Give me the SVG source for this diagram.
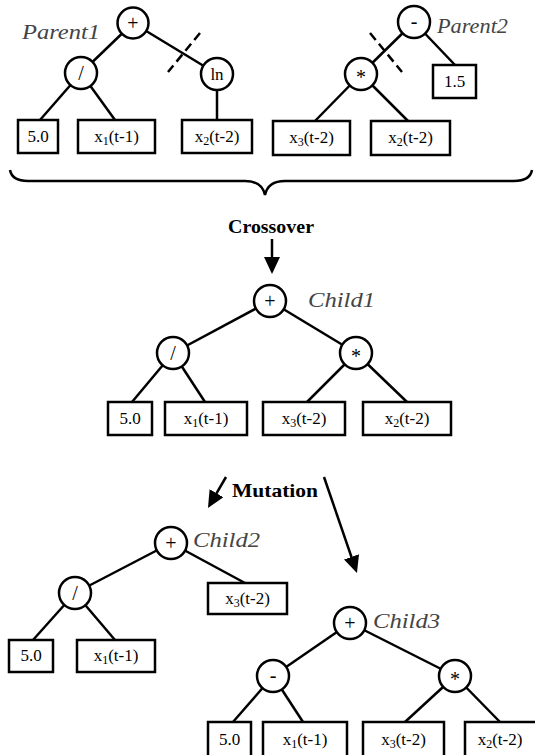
<svg xmlns="http://www.w3.org/2000/svg" width="535" height="755" viewBox="0 0 535 755">
<style>
.c{fill:#fff;stroke:#000;stroke-width:2.5}
.b{fill:#fff;stroke:#000;stroke-width:2.5}
.l{stroke:#000;stroke-width:2.5;fill:none}
.d{stroke:#000;stroke-width:2.5;fill:none;stroke-dasharray:9,5}
.t{font-family:"Liberation Serif",serif;font-size:17px;fill:#000;text-anchor:middle}
.o{font-family:"Liberation Serif",serif;font-size:20px;fill:#000;text-anchor:middle}
.s{font-size:12px}
.i{font-family:"Liberation Serif",serif;font-style:italic;font-size:20px;fill:#444}
.h{font-family:"Liberation Serif",serif;font-weight:bold;font-size:19px;fill:#000}
</style>
<defs>
<marker id="ah" markerUnits="userSpaceOnUse" markerWidth="17" markerHeight="16" refX="7" refY="8" orient="auto">
<path d="M0,0 L17,8 L0,16 z" fill="#000"/>
</marker>
</defs>
<g id="connectors">
<line class="l" x1="133" y1="23" x2="81" y2="73"/>
<line class="l" x1="133" y1="23" x2="217" y2="74"/>
<line class="l" x1="81" y1="73" x2="40" y2="120"/>
<line class="l" x1="81" y1="73" x2="115" y2="120"/>
<line class="l" x1="217" y1="74" x2="217" y2="120"/>
<line class="d" x1="200" y1="33" x2="168" y2="72"/>
<line class="l" x1="414" y1="22" x2="361" y2="74"/>
<line class="l" x1="414" y1="22" x2="455" y2="65"/>
<line class="l" x1="361" y1="74" x2="315" y2="121"/>
<line class="l" x1="361" y1="74" x2="408" y2="121"/>
<line class="d" x1="370" y1="33" x2="402" y2="72"/>
<path class="l" d="M10,170 Q12,181 28,181 L245,181 Q262,181 265,195 Q268,181 285,181 L514,181 Q530,181 532,170"/>
<line class="l" x1="272" y1="239" x2="272" y2="264" marker-end="url(#ah)"/>
<line class="l" x1="270" y1="301" x2="173" y2="353"/>
<line class="l" x1="270" y1="301" x2="356" y2="353"/>
<line class="l" x1="173" y1="353" x2="132" y2="402"/>
<line class="l" x1="173" y1="353" x2="205" y2="402"/>
<line class="l" x1="356" y1="353" x2="307" y2="402"/>
<line class="l" x1="356" y1="353" x2="407" y2="402"/>
<line class="l" x1="226" y1="477" x2="213" y2="499.3" marker-end="url(#ah)"/>
<line class="l" x1="324" y1="477" x2="353.7" y2="563.5" marker-end="url(#ah)"/>
<line class="l" x1="171" y1="543" x2="75" y2="593"/>
<line class="l" x1="171" y1="543" x2="245" y2="583"/>
<line class="l" x1="75" y1="593" x2="33" y2="640"/>
<line class="l" x1="75" y1="593" x2="115" y2="640"/>
<line class="l" x1="350" y1="623" x2="273" y2="676"/>
<line class="l" x1="350" y1="623" x2="455" y2="676"/>
<line class="l" x1="273" y1="676" x2="233" y2="722"/>
<line class="l" x1="273" y1="676" x2="303" y2="722"/>
<line class="l" x1="455" y1="676" x2="405" y2="722"/>
<line class="l" x1="455" y1="676" x2="500" y2="722"/>
</g>
<g id="labels">
<text class="i" x="22" y="39" textLength="78" lengthAdjust="spacingAndGlyphs">Parent1</text>
<text class="i" x="437" y="33" textLength="71" lengthAdjust="spacingAndGlyphs">Parent2</text>
<text class="h" x="228" y="233" textLength="86" lengthAdjust="spacingAndGlyphs">Crossover</text>
<text class="i" x="308" y="307" textLength="67" lengthAdjust="spacingAndGlyphs">Child1</text>
<text class="h" x="232" y="497" textLength="86" lengthAdjust="spacingAndGlyphs">Mutation</text>
<text class="i" x="193" y="547" textLength="67" lengthAdjust="spacingAndGlyphs">Child2</text>
<text class="i" x="373" y="628" textLength="67" lengthAdjust="spacingAndGlyphs">Child3</text>
</g>
<g id="p1-plus"><circle class="c" cx="133" cy="23" r="15.5"/><text class="o" x="133" y="30">+</text></g>
<g id="p1-div"><circle class="c" cx="81" cy="73" r="16"/><text class="o" x="81" y="80">/</text></g>
<g id="p1-ln"><circle class="c" cx="217" cy="74" r="16"/><text class="t" x="217" y="80">ln</text></g>
<g id="p1-50"><rect class="b" x="18" y="120" width="40" height="33"/><text class="t" x="38" y="142">5.0</text></g>
<g id="p1-x1"><rect class="b" x="78" y="120" width="77" height="33"/><text class="t" x="116.5" y="142">x<tspan class="s" dy="3">1</tspan><tspan dy="-3">(t-1)</tspan></text></g>
<g id="p1-x2"><rect class="b" x="182" y="120" width="70" height="33"/><text class="t" x="217" y="142">x<tspan class="s" dy="3">2</tspan><tspan dy="-3">(t-2)</tspan></text></g>
<g id="p2-minus"><circle class="c" cx="414" cy="22" r="16"/><text class="o" x="414" y="28">-</text></g>
<g id="p2-mul"><circle class="c" cx="361" cy="74" r="16"/><text class="o" x="361" y="84">*</text></g>
<g id="p2-15"><rect class="b" x="433" y="65" width="43" height="33"/><text class="t" x="454.5" y="87">1.5</text></g>
<g id="p2-x3"><rect class="b" x="273" y="121" width="77" height="34"/><text class="t" x="311.5" y="143">x<tspan class="s" dy="3">3</tspan><tspan dy="-3">(t-2)</tspan></text></g>
<g id="p2-x2"><rect class="b" x="371" y="121" width="79" height="34"/><text class="t" x="410.5" y="143">x<tspan class="s" dy="3">2</tspan><tspan dy="-3">(t-2)</tspan></text></g>
<g id="c1-plus"><circle class="c" cx="270" cy="301" r="16"/><text class="o" x="270" y="308">+</text></g>
<g id="c1-div"><circle class="c" cx="173" cy="353" r="16"/><text class="o" x="173" y="360">/</text></g>
<g id="c1-mul"><circle class="c" cx="356" cy="353" r="16"/><text class="o" x="356" y="363">*</text></g>
<g id="c1-50"><rect class="b" x="108" y="402" width="44" height="33"/><text class="t" x="130" y="424">5.0</text></g>
<g id="c1-x1"><rect class="b" x="165" y="402" width="82" height="33"/><text class="t" x="206" y="424">x<tspan class="s" dy="3">1</tspan><tspan dy="-3">(t-1)</tspan></text></g>
<g id="c1-x3"><rect class="b" x="263" y="402" width="82" height="33"/><text class="t" x="304" y="424">x<tspan class="s" dy="3">3</tspan><tspan dy="-3">(t-2)</tspan></text></g>
<g id="c1-x2"><rect class="b" x="363" y="402" width="88" height="33"/><text class="t" x="407" y="424">x<tspan class="s" dy="3">2</tspan><tspan dy="-3">(t-2)</tspan></text></g>
<g id="c2-plus"><circle class="c" cx="171" cy="543" r="16"/><text class="o" x="171" y="550">+</text></g>
<g id="c2-div"><circle class="c" cx="75" cy="593" r="16"/><text class="o" x="75" y="600">/</text></g>
<g id="c2-x3"><rect class="b" x="208" y="583" width="79" height="31"/><text class="t" x="247.5" y="604">x<tspan class="s" dy="3">3</tspan><tspan dy="-3">(t-2)</tspan></text></g>
<g id="c2-50"><rect class="b" x="9" y="640" width="44" height="32"/><text class="t" x="31" y="661">5.0</text></g>
<g id="c2-x1"><rect class="b" x="77" y="640" width="78" height="32"/><text class="t" x="116" y="661">x<tspan class="s" dy="3">1</tspan><tspan dy="-3">(t-1)</tspan></text></g>
<g id="c3-plus"><circle class="c" cx="350" cy="623" r="16"/><text class="o" x="350" y="630">+</text></g>
<g id="c3-minus"><circle class="c" cx="273" cy="676" r="16"/><text class="o" x="273" y="682">-</text></g>
<g id="c3-mul"><circle class="c" cx="455" cy="676" r="16"/><text class="o" x="455" y="686">*</text></g>
<g id="c3-50"><rect class="b" x="208" y="722" width="43" height="35"/><text class="t" x="229.5" y="745">5.0</text></g>
<g id="c3-x1"><rect class="b" x="263" y="722" width="84" height="35"/><text class="t" x="305" y="745">x<tspan class="s" dy="3">1</tspan><tspan dy="-3">(t-1)</tspan></text></g>
<g id="c3-x3"><rect class="b" x="363" y="722" width="81" height="35"/><text class="t" x="403.5" y="745">x<tspan class="s" dy="3">3</tspan><tspan dy="-3">(t-2)</tspan></text></g>
<g id="c3-x2"><rect class="b" x="465" y="722" width="78" height="35"/><text class="t" x="500" y="745">x<tspan class="s" dy="3">2</tspan><tspan dy="-3">(t-2)</tspan></text></g>
</svg>
